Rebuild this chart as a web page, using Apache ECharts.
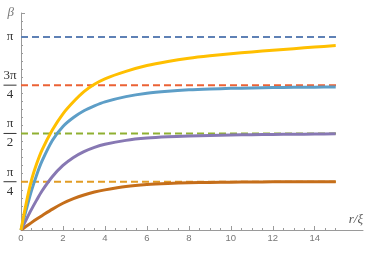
<!DOCTYPE html>
<html>
<head>
<meta charset="utf-8">
<script src="https://cdn.jsdelivr.net/npm/echarts@6/dist/echarts.min.js"></script>
<style>html,body{margin:0;padding:0;background:#fff}#c{width:374px;height:257px}</style>
</head>
<body>
<div id="c"></div>
<script>
const PI = Math.PI;
const xs = [0,0.25,0.5,0.75,1,1.5,2,2.5,3,3.5,4,5,6,7,8,9,10,11,12,13,14,15];
const brown  = [0,0.06,0.12,0.178,0.233,0.34,0.435,0.51,0.57,0.617,0.653,0.708,0.74,0.757,0.767,0.774,0.778,0.781,0.783,0.784,0.785,0.785];
const purple = [0,0.17,0.335,0.49,0.635,0.87,1.05,1.18,1.275,1.345,1.395,1.458,1.495,1.516,1.529,1.538,1.545,1.55,1.554,1.558,1.561,1.564];
const blue   = [0,0.33,0.64,0.90,1.12,1.46,1.685,1.83,1.94,2.02,2.085,2.17,2.225,2.258,2.28,2.294,2.304,2.311,2.317,2.321,2.324,2.326];
const yellow = [0,0.44,0.81,1.08,1.30,1.63,1.89,2.085,2.25,2.37,2.46,2.58,2.675,2.742,2.795,2.835,2.868,2.897,2.924,2.95,2.976,3.0];
const dashX = [0, 15.1];
const dashLevels = [PI, 3*PI/4, PI/2, PI/4];
const dashColors = ['#5e81b5', '#eb6235', '#8fb032', '#e19c24'];
const curveColors = ['#c56e1a', '#8778b3', '#5d9ec7', '#ffbf00'];
const xTickLabels = [0,2,4,6,8,10,12,14];
const xMinorTicks = [0.5,1,1.5,2.5,3,3.5,4.5,5,5.5,6.5,7,7.5,8.5,9,9.5,10.5,11,11.5,12.5,13,13.5,14.5,15];
const yTickLabels = [['',''],['π','4'],['π','2'],['3π','4'],['π','']];

const pair = (a, b) => a.map((x, i) => [x, b[i]]);
const chart = echarts.init(document.getElementById('c'));
const series = [];
dashLevels.forEach((lv, i) => {
  series.push({type:'line', data: dashX.map(x => [x, lv]), symbol:'none', silent:true,
    lineStyle:{color: dashColors[i], width:2, type:[7,4]}, z:1});
});
[brown, purple, blue, yellow].forEach((d, i) => {
  series.push({type:'line', data: pair(xs, d), symbol:'none', smooth:0.3, silent:true,
    lineStyle:{color: curveColors[i], width:3}, z:2});
});
const axisCol = '#9a9a9a';
chart.setOption({
  animation:false,
  grid:{left:18.5, right:11, top:13, bottom:27, containLabel:false},
  xAxis:[{
    type:'value', min:0, max:16.3,
    name:'r/ξ', nameLocation:'end', nameGap:0,
    nameTextStyle:{fontFamily:'Liberation Serif', fontStyle:'italic', fontSize:13, color:'#555', align:'right', verticalAlign:'bottom', padding:[0,0,4,0]},
    axisLine:{lineStyle:{color:axisCol, width:1}},
    axisTick:{inside:true, length:4, lineStyle:{color:axisCol}, customValues:xTickLabels},
    axisLabel:{customValues:xTickLabels, color:'#777', fontFamily:'Liberation Sans', fontSize:9.5, margin:3},
    splitLine:{show:false}
  },{
    type:'value', min:0, max:16.3, position:'bottom',
    axisLine:{show:false},
    axisTick:{inside:true, length:2, lineStyle:{color:axisCol}, customValues:xMinorTicks},
    axisLabel:{show:false}, splitLine:{show:false}
  }],
  yAxis:{
    type:'value', min:0, max:3.53, interval:PI/4,
    name:'β', nameLocation:'end', nameGap:0,
    nameTextStyle:{fontFamily:'Liberation Serif', fontStyle:'italic', fontSize:13, color:'#777', align:'right', verticalAlign:'middle', padding:[0,7,0,0]},
    axisLine:{show:true, lineStyle:{color:axisCol, width:1}},
    axisTick:{show:true, inside:true, length:4, lineStyle:{color:axisCol}},
    minorTick:{show:true, splitNumber:6, length:2, lineStyle:{color:axisCol}},
    axisLabel:{
      margin:4, showMaxLabel:false,
      formatter: v => {
        const k = v / (PI/4);
        if (Math.abs(k - Math.round(k)) > 1e-6) return '';
        const t = yTickLabels[Math.round(k)] || ['',''];
        if (!t[0]) return '';
        if (!t[1]) return '{s|' + t[0] + '}';
        return '{n|' + t[0] + '}\n{b| }\n{d|' + t[1] + '}';
      },
      rich:{
        s:{fontFamily:'Liberation Serif', fontSize:13, color:'#333', width:14, align:'center', lineHeight:16},
        n:{fontFamily:'Liberation Serif', fontSize:13, color:'#333', width:14, align:'center', lineHeight:17},
        b:{backgroundColor:'#333', width:13, height:1, lineHeight:2, fontSize:1, align:'center'},
        d:{fontFamily:'Liberation Serif', fontSize:13, color:'#333', width:14, align:'center', lineHeight:17}
      }
    },
    splitLine:{show:false}
  },
  series: series
});
</script>
</body>
</html>
